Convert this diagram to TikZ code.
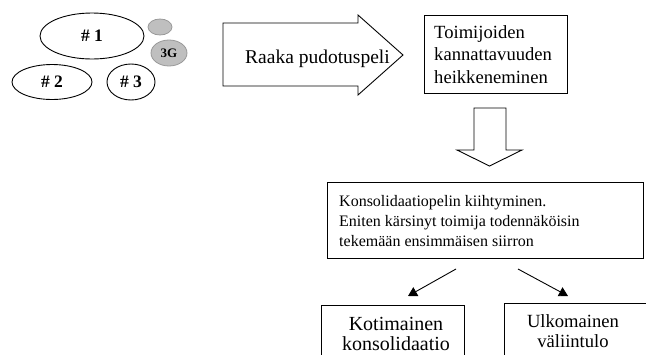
\documentclass[tikz,border=0pt]{standalone}
\usepackage{fontspec}
\setmainfont{Liberation Serif}
\usetikzlibrary{shapes.geometric,arrows.meta}

\tikzset{
  oval/.style={draw, ellipse, line width=0.9pt, inner sep=0pt,
    font=\bfseries\fontsize{17.5}{20}\selectfont},
  greydot/.style={draw=black!40, fill=black!25, ellipse, line width=0.8pt, inner sep=0pt,
    font=\bfseries\fontsize{13}{15}\selectfont},
  frame/.style={draw, line width=0.9pt, inner sep=0pt},
  blockarrow/.style={draw, line width=0.9pt, line join=miter},
  label/.style={inner sep=0pt, anchor=base west, align=left},
  pointer/.style={line width=0.9pt, -{Triangle[length=9pt,width=10pt]}}
}

\begin{document}
\begin{tikzpicture}[x=1pt,y=-1pt]
\useasboundingbox (0,0) rectangle (646,354);
\clip (0,0) rectangle (646,354);

% operators
\node[oval, minimum width=104pt, minimum height=46pt] (op1) at (92,36) {\# 1};
\node[oval, minimum width=80pt, minimum height=35pt] (op2) at (52,82) {\# 2};
\node[oval, minimum width=48pt, minimum height=36pt] (op3) at (131,82) {\# 3};
\node[greydot, minimum width=24pt, minimum height=16pt] (dot) at (160,27) {};
\node[greydot, minimum width=36pt, minimum height=26pt] (g3) at (169,53) {3G};

% block arrow to the right
\draw[blockarrow] (223,23) -- (358,23) -- (358,15) -- (403,55) -- (358,95)
  -- (358,86) -- (223,86) -- cycle;
\node[label] (raaka) at (245,63) {\fontsize{19.5}{22}\selectfont Raaka pudotuspeli};

% weakening profitability (multi-line labels sit on their last baseline)
\node[frame, minimum width=143pt, minimum height=78pt] (heik) at (495.5,54) {};
\node[label, font=\fontsize{18.6}{22.5}\selectfont] (heiktxt) at (434,83)
  {Toimijoiden\\kannattavuuden\\heikkeneminen};

% block arrow downwards
\draw[blockarrow] (474,108) -- (506,108) -- (506,150) -- (522,150) -- (489.5,166)
  -- (457,150) -- (474,150) -- cycle;

% consolidation game
\node[frame, minimum width=316pt, minimum height=76pt] (kons) at (485,220) {};
\node[label, font=\fontsize{16}{20}\selectfont] (konstxt) at (339,246)
  {Konsolidaatiopelin kiihtyminen.\\Eniten kärsinyt toimija todennäköisin\\tekemään ensimmäisen siirron};

% outcomes
\node[frame, minimum width=143pt, minimum height=80pt] (koti) at (392.5,345) {};
\node[inner sep=0pt, anchor=base, align=center, font=\fontsize{20}{20}\selectfont] (kotitxt)
  at (396,350) {Kotimainen\\konsolidaatio};
\node[frame, minimum width=156pt, minimum height=82pt] (ulko) at (582,344) {};
\node[inner sep=0pt, anchor=base, align=center, font=\fontsize{18.6}{20}\selectfont] (ulkotxt)
  at (573,347) {Ulkomainen\\väliintulo};

% branching arrows
\coordinate (ls) at (456,269);
\coordinate (le) at (408,296);
\coordinate (rs) at (518,269);
\coordinate (re) at (568,296);
\draw[pointer] (ls) -- (le);
\draw[pointer] (rs) -- (re);
\end{tikzpicture}
\end{document}
